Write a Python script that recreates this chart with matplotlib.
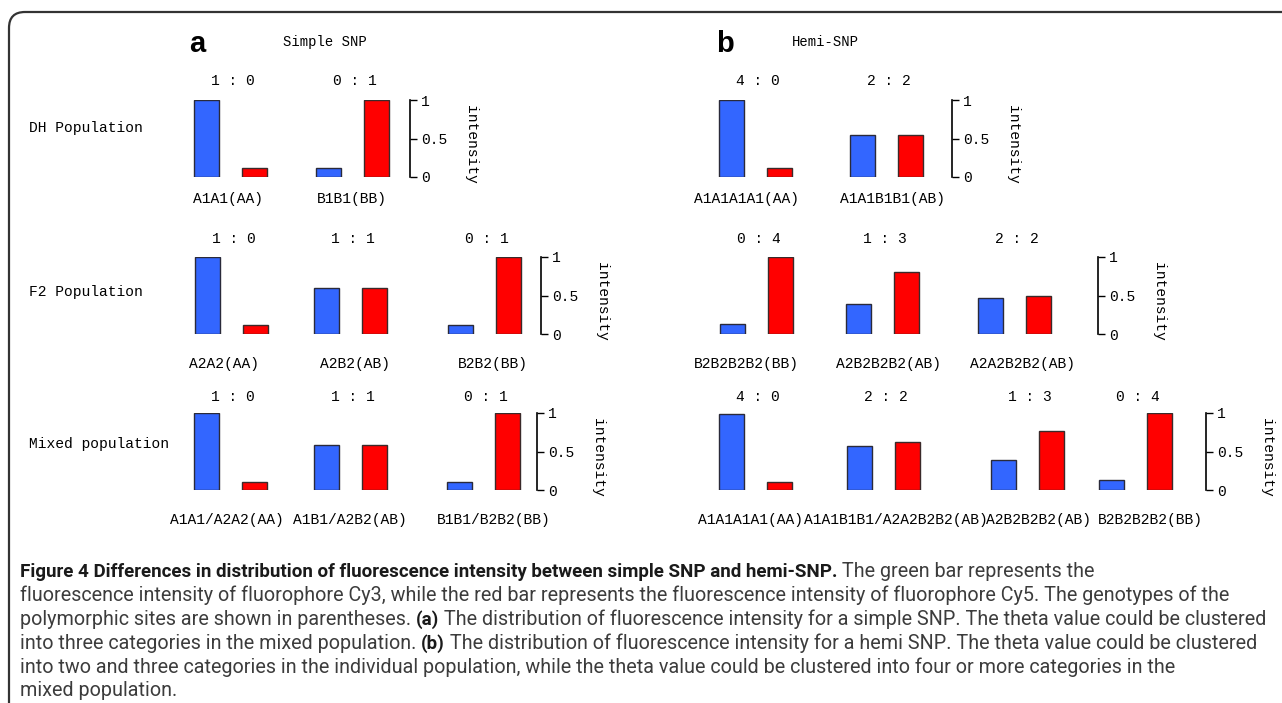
import matplotlib
matplotlib.use("Agg")
import matplotlib.pyplot as plt
from matplotlib import font_manager
from matplotlib.patches import FancyBboxPatch
from matplotlib.transforms import IdentityTransform

W, H = 1282, 703
MONO = "Liberation Mono"
CAP_FONT = "Roboto"
BLUE = "#3366ff"
RED = "#ff0000"

plt.rcParams["font.family"] = MONO

# ---------------- data ----------------
row_names = ["DH Population", "F2 Population", "Mixed population"]

a_ratios = [["1 : 0", "0 : 1"],
            ["1 : 0", "1 : 1", "0 : 1"],
            ["1 : 0", "1 : 1", "0 : 1"]]
a_genotypes = [["A1A1(AA)", "B1B1(BB)"],
               ["A2A2(AA)", "A2B2(AB)", "B2B2(BB)"],
               ["A1A1/A2A2(AA)", "A1B1/A2B2(AB)", "B1B1/B2B2(BB)"]]
a_blue = [[1.0, 0.12], [1.0, 0.60, 0.12], [1.0, 0.59, 0.11]]
a_red = [[0.12, 1.0], [0.12, 0.60, 1.0], [0.10, 0.59, 1.0]]

b_ratios = [["4 : 0", "2 : 2"],
            ["0 : 4", "1 : 3", "2 : 2"],
            ["4 : 0", "2 : 2", "1 : 3", "0 : 4"]]
b_genotypes = [["A1A1A1A1(AA)", "A1A1B1B1(AB)"],
               ["B2B2B2B2(BB)", "A2B2B2B2(AB)", "A2A2B2B2(AB)"],
               ["A1A1A1A1(AA)", "A1A1B1B1/A2A2B2B2(AB)", "A2B2B2B2(AB)", "B2B2B2B2(BB)"]]
b_blue = [[1.0, 0.55], [0.13, 0.39, 0.47], [0.99, 0.57, 0.39, 0.13]]
b_red = [[0.12, 0.55], [1.0, 0.80, 0.50], [0.10, 0.62, 0.76, 1.0]]

intensity_ticks = [0, 0.5, 1]
intensity_labels = ["0", "0.5", "1"]

caption = [
    [("Figure 4 Differences in distribution of fluorescence intensity between simple SNP and hemi-SNP.", "bold"),
     (" The green bar represents the", "normal")],
    [("fluorescence intensity of fluorophore Cy3, while the red bar represents the fluorescence intensity "
      "of fluorophore Cy5. The genotypes of the", "normal")],
    [("polymorphic sites are shown in parentheses. ", "normal"), ("(a)", "bold"),
     (" The distribution of fluorescence intensity for a simple SNP. The theta value could be clustered", "normal")],
    [("into three categories in the mixed population. ", "normal"), ("(b)", "bold"),
     (" The distribution of fluorescence intensity for a hemi SNP. The theta value could be clustered", "normal")],
    [("into two and three categories in the individual population, while the theta value could be "
      "clustered into four or more categories in the", "normal")],
    [("mixed population.", "normal")],
]

# ---------------- layout (pixels from top-left) ----------------
row_base = [177, 334, 490]
row_unit = 77
ratio_y = [81, 239, 397]
geno_y = [199, 364, 520]
label_y = [128, 292, 444]

a_centers = [[230, 352], [231, 350, 484], [230, 350, 483]]
a_axis_x = [410, 541, 537]
a_geno_x = [[228, 352], [224, 355, 493], [227, 350, 494]]
b_centers = [[755, 886], [756, 882, 1014], [755, 883, 1027, 1135]]
b_axis_x = [952, 1098, 1206]
b_geno_x = [[746, 893], [746, 888, 1023], [750, 896, 1038, 1150]]


def fx(x):
    return x / W


def fy(y):
    return 1 - y / H


fig = plt.figure(figsize=(W / 100, H / 100), dpi=100)
fig.patch.set_facecolor("white")


def draw_row(x0, x1, r, centers, axis_x, geno_x, ratios, genos, blue, red):
    base = row_base[r]
    ax = fig.add_axes([fx(x0), fy(base), (x1 - x0) / W, row_unit / H])
    ax.set_xlim(x0, x1)
    ax.set_ylim(0, 1)
    ax.patch.set_visible(False)
    for s in ["top", "bottom", "left"]:
        ax.spines[s].set_visible(False)
    ax.get_xaxis().set_visible(False)

    xb = [c - 24 for c in centers]
    xr = [c + 24 for c in centers]
    ax.bar(xb, blue, width=25, color=BLUE, edgecolor="#2a2a3a", linewidth=1)
    ax.bar(xr, red, width=25, color=RED, edgecolor="#3a2a2a", linewidth=1)

    ax.spines["right"].set_position(("data", axis_x))
    ax.spines["right"].set_bounds(0, 1)
    ax.spines["right"].set_linewidth(1.2)
    ax.yaxis.set_ticks_position("right")
    ax.set_yticks(intensity_ticks, intensity_labels)
    ax.tick_params(axis="y", direction="out", length=5, width=1, pad=3, labelsize=10.5)
    ax.text(axis_x + 61, 0.42, "intensity", rotation=270, ha="center", va="center",
            fontsize=10.5, clip_on=False)

    for c, t in zip(centers, ratios):
        ax.text(c + 3, (base - ratio_y[r]) / row_unit, t, ha="center", va="center",
                fontsize=10.5, clip_on=False)
    for gx, t in zip(geno_x, genos):
        ax.text(gx, (base - geno_y[r]) / row_unit, t, ha="center", va="center",
                fontsize=10.5, clip_on=False)


for r in range(3):
    draw_row(170, 640, r, a_centers[r], a_axis_x[r], a_geno_x[r],
             a_ratios[r], a_genotypes[r], a_blue[r], a_red[r])
    draw_row(690, 1282, r, b_centers[r], b_axis_x[r], b_geno_x[r],
             b_ratios[r], b_genotypes[r], b_blue[r], b_red[r])
    fig.text(fx(29), fy(label_y[r]), row_names[r], ha="left", va="center", fontsize=10.5)

# panel headings
fig.text(fx(189), fy(44), "a", fontsize=21, fontweight="bold", family="Liberation Sans",
         ha="left", va="center")
fig.text(fx(283), fy(42), "Simple SNP", fontsize=10, ha="left", va="center")
fig.text(fx(716), fy(44), "b", fontsize=21, fontweight="bold", family="Liberation Sans",
         ha="left", va="center")
fig.text(fx(792), fy(42), "Hemi-SNP", fontsize=10, ha="left", va="center")

# frame with rounded top-left corner
frame = FancyBboxPatch((9, -30), 1400, (H - 12) + 30,
                       boxstyle="round,pad=0,rounding_size=16",
                       transform=IdentityTransform(), fill=False,
                       edgecolor="#333333", linewidth=1.6)
fig.add_artist(frame)

# caption: narrow bold face if present, sizes fitted to the reference widths
try:
    font_manager.findfont("Liberation Sans Narrow", fallback_to_default=False)
    BOLD_FONT = "Liberation Sans Narrow"
except Exception:
    BOLD_FONT = CAP_FONT

cap_ax = fig.add_axes([0, 0, 1, 1])
cap_ax.set_axis_off()
cap_ax.set_xlim(0, 1)
cap_ax.set_ylim(0, 1)
renderer = fig.canvas.get_renderer()
probe = cap_ax.text(0, 0, "".join(s for s, _ in caption[2]), family=CAP_FONT, fontsize=12)
cap_size = 12 * 1242 / probe.get_window_extent(renderer).width
probe.remove()
probe = cap_ax.text(0, 0, caption[0][0][0], family=BOLD_FONT, fontweight="bold", fontsize=12)
bold_size = min(max(12 * 765 / probe.get_window_extent(renderer).width, cap_size * 0.95),
                cap_size * 1.1)
probe.remove()

cap_y = [571, 595, 619, 643, 667, 690]
for line, y in zip(caption, cap_y):
    prev = None
    for seg, weight in line:
        bold = weight == "bold"
        kw = dict(family=BOLD_FONT if bold else CAP_FONT,
                  fontsize=bold_size if bold else cap_size,
                  fontweight=weight, color="#1a1a1a" if bold else "#3c3c3c")
        if prev is None:
            prev = cap_ax.text(fx(20), fy(y), seg, ha="left", va="baseline", **kw)
            prev.set_y(fy(y + 6))
        else:
            prev = cap_ax.annotate(seg, xy=(1, 0), xycoords=prev, ha="left", va="bottom", **kw)

fig.savefig("out.png", dpi=100)
